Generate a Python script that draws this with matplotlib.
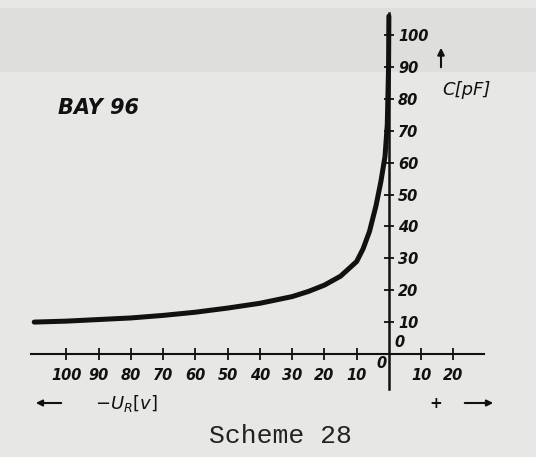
import matplotlib
matplotlib.use("Agg")
import matplotlib.pyplot as plt
from matplotlib.patches import Rectangle, FancyArrowPatch

# ---- data ----
voltage = [-110, -100, -90, -80, -70, -60, -50, -40, -30, -25, -20, -15,
           -10, -8, -6, -4, -2.5, -1.2, -0.5, -0.1, 0]
capacitance = [10.0, 10.3, 10.8, 11.3, 12.1, 13.1, 14.4, 15.9, 18.0, 19.6,
               21.6, 24.4, 29.0, 33.0, 38.5, 46.5, 54.0, 62.0, 72.0, 90.0, 106.0]

x_ticks = [-100, -90, -80, -70, -60, -50, -40, -30, -20, -10, 10, 20]
x_tick_labels = ["100", "90", "80", "70", "60", "50", "40", "30", "20", "10", "10", "20"]
y_ticks = [10, 20, 30, 40, 50, 60, 70, 80, 90, 100]
y_tick_labels = ["10", "20", "30", "40", "50", "60", "70", "80", "90", "100"]

paper = "#e7e7e5"
ink = "#111111"

fig = plt.figure(figsize=(5.36, 4.57), dpi=100, facecolor=paper)
# slightly darker scan band at the top (behind everything)
band = Rectangle((0, 1 - 72 / 457), 1, 64 / 457, transform=fig.transFigure,
                 facecolor="#dededc", edgecolor="none", zorder=-10)
fig.patches.append(band)

ax = fig.add_axes([31 / 536, 1 - 389 / 457, 453 / 536, 376 / 457])
ax.set_facecolor("none")
ax.set_zorder(1)
ax.set_xlim(-111, 29.5)
ax.set_ylim(-11, 107)

for s in ["top", "left"]:
    ax.spines[s].set_visible(False)
ax.spines["bottom"].set_position(("data", 0))
ax.spines["right"].set_position(("data", 0))
ax.spines["bottom"].set_linewidth(1.5)
ax.spines["right"].set_linewidth(1.8)
ax.spines["bottom"].set_color(ink)
ax.spines["right"].set_color(ink)

ax.yaxis.tick_right()
tick_font = dict(fontstyle="italic", fontweight="bold", fontsize=10.5, color=ink)
ax.set_xticks(x_ticks)
ax.set_xticklabels(x_tick_labels, **tick_font)
ax.set_yticks(y_ticks)
ax.set_yticklabels(y_tick_labels, **tick_font)
ax.tick_params(axis="x", direction="inout", length=8, width=1.3, pad=6, colors=ink)
ax.tick_params(axis="y", direction="inout", length=7, width=1.3, pad=3, colors=ink)

ax.plot(voltage, capacitance, color=ink, lw=3.6, solid_capstyle="round",
        solid_joinstyle="round", zorder=5)

# zero labels
ax.text(1.6, 3.5, "0", ha="left", va="center", **tick_font)
ax.text(-2.3, -3.0, "0", ha="center", va="center", **tick_font)

# titles / annotations in figure pixel coordinates
def fx(px):
    return px / 536

def fy(py):
    return 1 - py / 457

fig.text(fx(99), fy(108), "BAY 96", ha="center", va="center", fontsize=15,
         fontstyle="italic", fontweight="bold", color=ink)
fig.text(fx(466), fy(90), "C[pF]", ha="center", va="center", fontsize=13,
         fontstyle="italic", color=ink)
fig.patches.append(FancyArrowPatch((fx(441), fy(70)), (fx(441), fy(45)),
                                   transform=fig.transFigure, arrowstyle="-|>",
                                   mutation_scale=10, lw=1.5, color=ink))

fig.text(fx(126), fy(404), r"$-U_R[v]$", ha="center", va="center", fontsize=13,
         color=ink)
fig.patches.append(FancyArrowPatch((fx(64), fy(403)), (fx(33), fy(403)),
                                   transform=fig.transFigure, arrowstyle="-|>",
                                   mutation_scale=9, lw=1.5, color=ink))
fig.text(fx(436), fy(404), "+", ha="center", va="center", fontsize=11,
         fontweight="bold", color=ink)
fig.patches.append(FancyArrowPatch((fx(462), fy(403)), (fx(496), fy(403)),
                                   transform=fig.transFigure, arrowstyle="-|>",
                                   mutation_scale=9, lw=1.5, color=ink))

fig.text(fx(280), fy(436), "Scheme 28", ha="center", va="center", fontsize=19,
         family="Liberation Mono", color="#222222")

fig.savefig("out.png", dpi=100, facecolor=paper)
